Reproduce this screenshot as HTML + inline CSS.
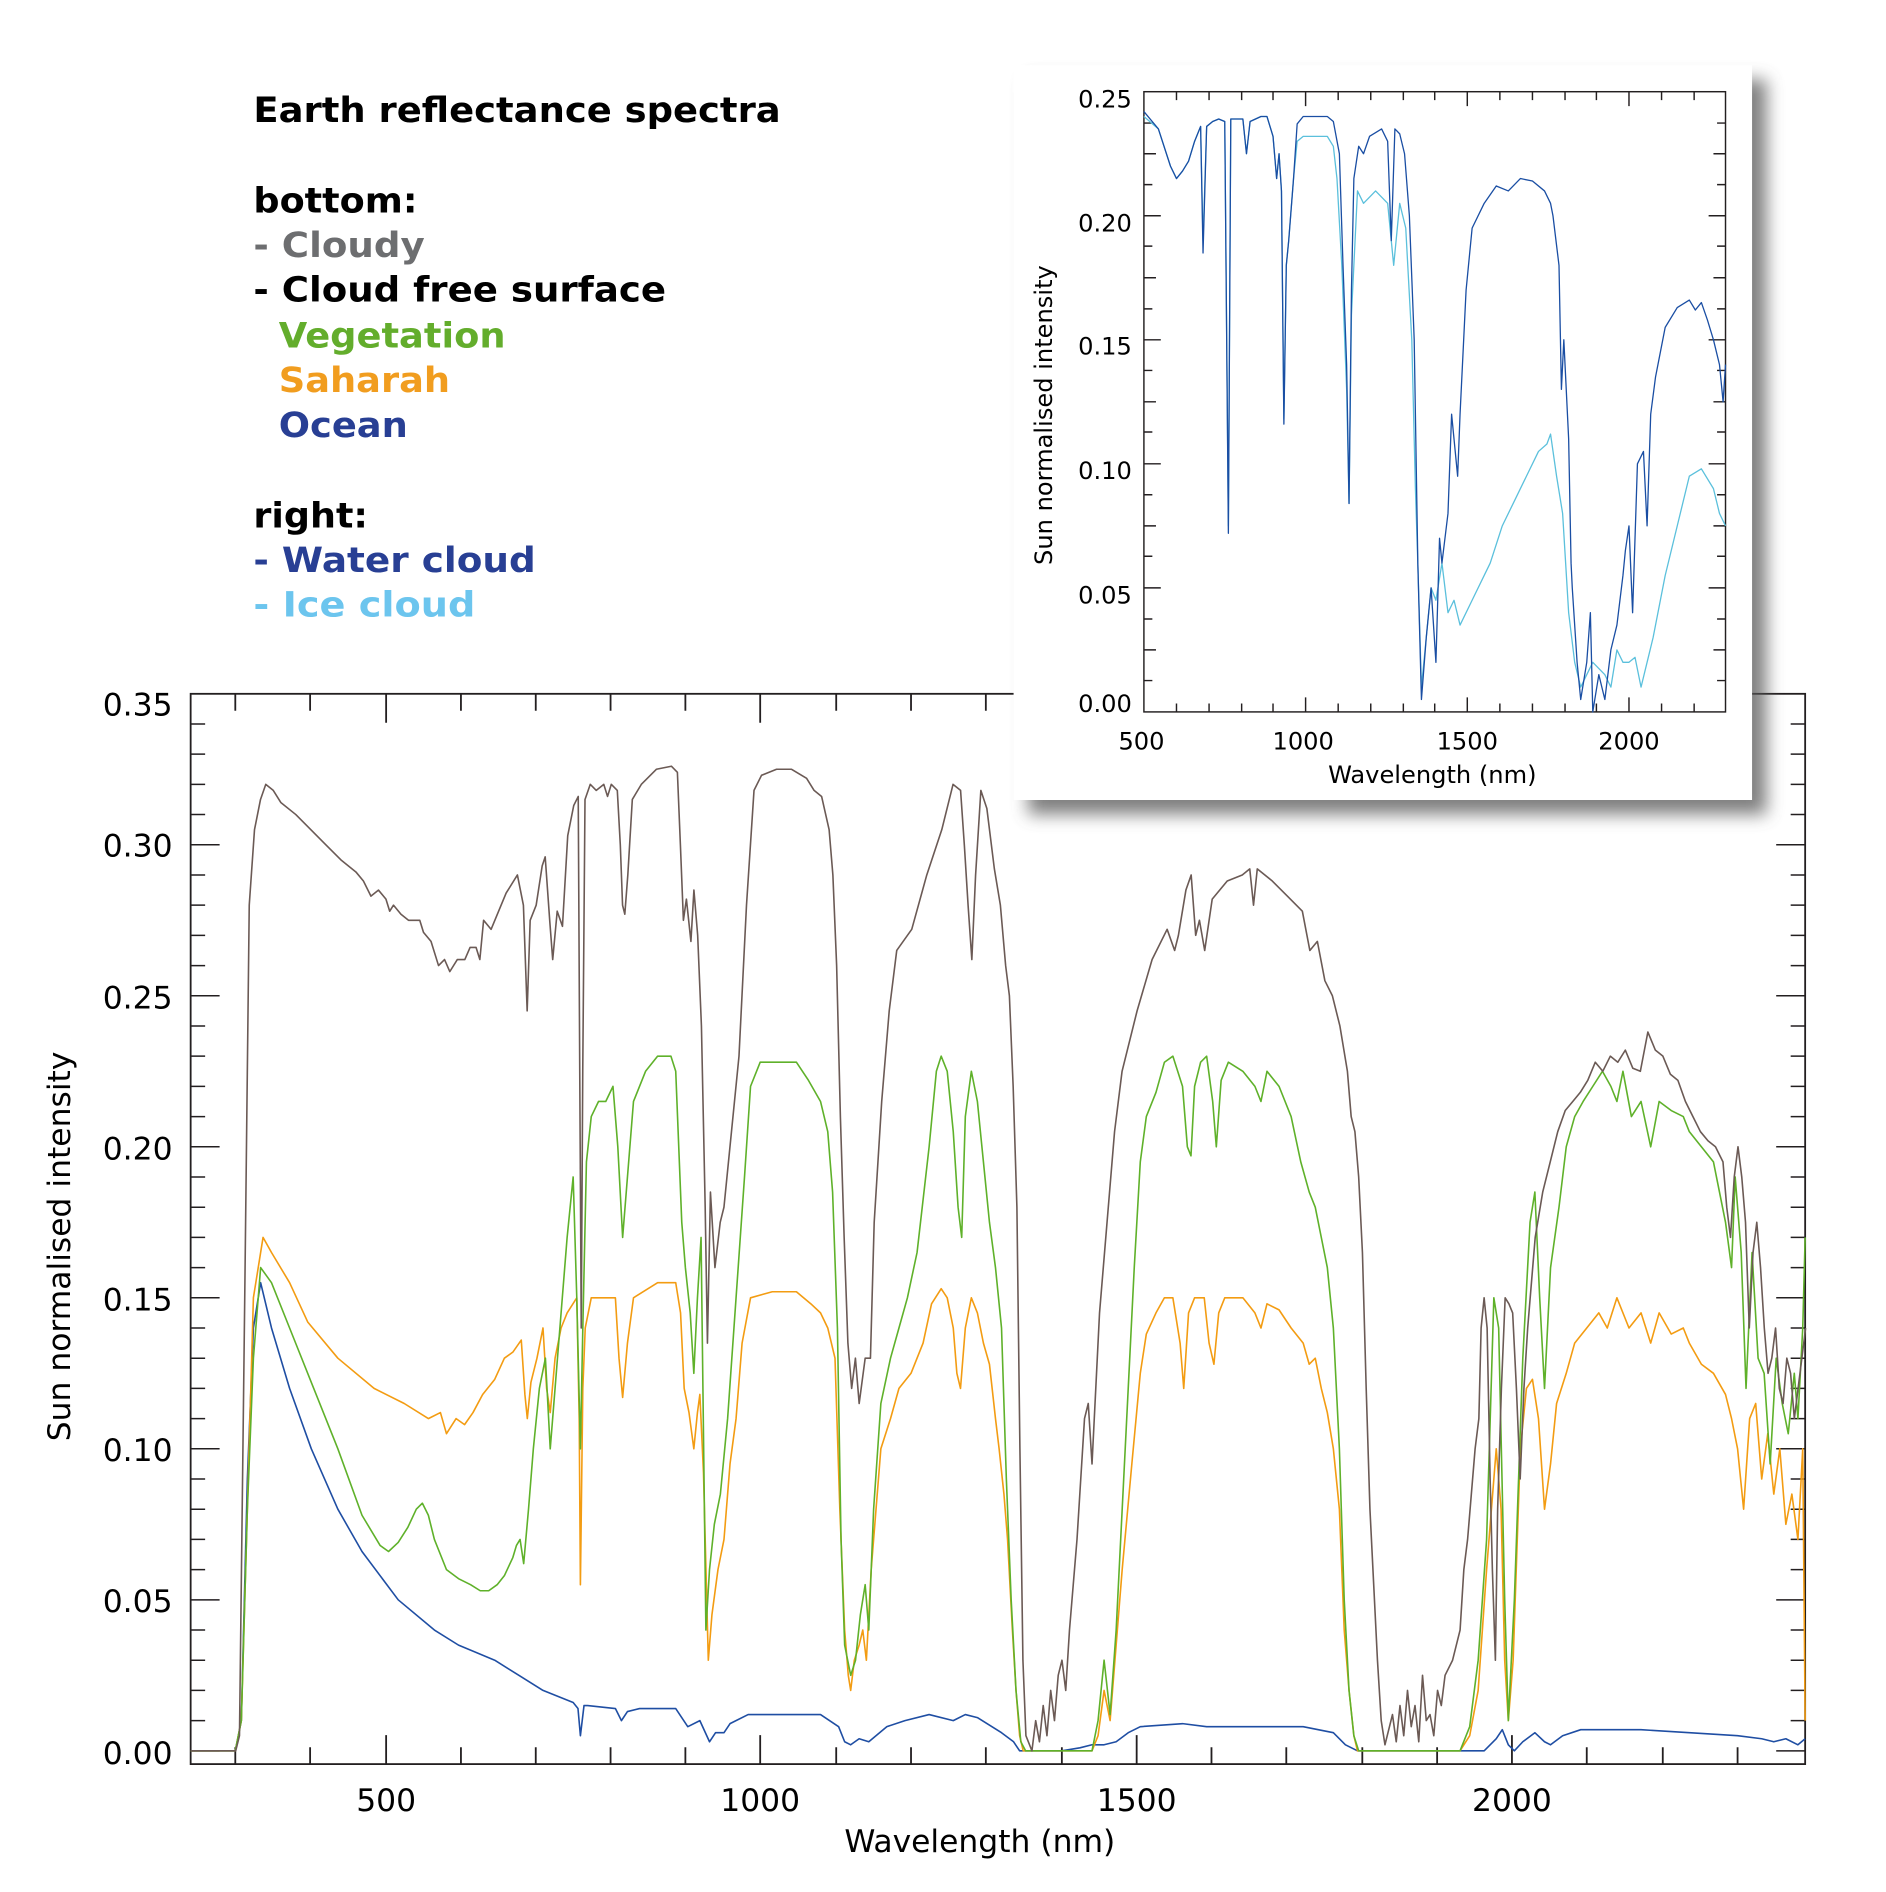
<!DOCTYPE html>
<html><head><meta charset="utf-8"><style>
html,body{margin:0;padding:0;background:#fff;}
svg{display:block;}
text{font-family:"DejaVu Sans","Liberation Sans",sans-serif;}
</style></head><body>
<svg width="1886" height="1892" viewBox="0 0 1563 1568" preserveAspectRatio="none" xmlns="http://www.w3.org/2000/svg">
<defs>
<filter id="sh" x="-10%" y="-10%" width="130%" height="130%"><feGaussianBlur stdDeviation="7"/></filter>
</defs>
<rect width="1563" height="1568" fill="#fff"/>

<g font-weight="bold" font-size="29">
<text x="210" y="101" textLength="437" lengthAdjust="spacingAndGlyphs">Earth reflectance spectra</text>
<text x="210" y="176" textLength="136" lengthAdjust="spacingAndGlyphs">bottom:</text>
<text x="210" y="213" fill="#6d6e70" textLength="142" lengthAdjust="spacingAndGlyphs">- Cloudy</text>
<text x="210" y="250" textLength="342" lengthAdjust="spacingAndGlyphs">- Cloud free surface</text>
<text x="231" y="288" fill="#63ad2c" textLength="188" lengthAdjust="spacingAndGlyphs">Vegetation</text>
<text x="231" y="325" fill="#f19d1f" textLength="142" lengthAdjust="spacingAndGlyphs">Saharah</text>
<text x="231" y="362" fill="#283f94" textLength="107" lengthAdjust="spacingAndGlyphs">Ocean</text>
<text x="210" y="437" textLength="95" lengthAdjust="spacingAndGlyphs">right:</text>
<text x="210" y="474" fill="#283f94" textLength="234" lengthAdjust="spacingAndGlyphs">- Water cloud</text>
<text x="210" y="511" fill="#6cc5ee" textLength="184" lengthAdjust="spacingAndGlyphs">- Ice cloud</text>
</g>

<rect x="158" y="575" width="1338" height="887" fill="none" stroke="#231f20" stroke-width="1.5"/>
<g transform="matrix(1,0,0,-2.503,0,1451)" stroke="#231f20">
<path vector-effect="non-scaling-stroke" stroke-width="1.5" d="M158 0h24M158 50h24M158 100h24M158 150h24M158 200h24M158 250h24M158 300h24
M1496 0h-24M1496 50h-24M1496 100h-24M1496 150h-24M1496 200h-24M1496 250h-24M1496 300h-24
M158 10h12M158 20h12M158 30h12M158 40h12M158 60h12M158 70h12M158 80h12M158 90h12M158 110h12M158 120h12M158 130h12M158 140h12M158 160h12M158 170h12M158 180h12M158 190h12M158 210h12M158 220h12M158 230h12M158 240h12M158 260h12M158 270h12M158 280h12M158 290h12M158 310h12M158 320h12M158 330h12M158 340h12
M1496 10h-12M1496 20h-12M1496 30h-12M1496 40h-12M1496 60h-12M1496 70h-12M1496 80h-12M1496 90h-12M1496 110h-12M1496 120h-12M1496 130h-12M1496 140h-12M1496 160h-12M1496 170h-12M1496 180h-12M1496 190h-12M1496 210h-12M1496 220h-12M1496 230h-12M1496 240h-12M1496 260h-12M1496 270h-12M1496 280h-12M1496 290h-12M1496 310h-12M1496 320h-12M1496 330h-12M1496 340h-12"/>
</g>
<g stroke="#231f20" stroke-width="1.5">
<path d="M195 1462v-14M257 1462v-14M382 1462v-14M444 1462v-14M506 1462v-14M568 1462v-14M693 1462v-14M755 1462v-14M817 1462v-14M880 1462v-14M1004 1462v-14M1066 1462v-14M1129 1462v-14M1191 1462v-14M1315 1462v-14M1378 1462v-14M1440 1462v-14
M320 1462v-24M630 1462v-24M942 1462v-24M1253 1462v-24
M195 575v14M257 575v14M382 575v14M444 575v14M506 575v14M568 575v14M693 575v14M755 575v14M817 575v14M1440 575v14M1378 575v14
M320 575v24M630 575v24"/>
</g>
<g font-size="26" fill="#000" text-anchor="end">
<text x="143" y="593">0.35</text>
<text x="143" y="710">0.30</text>
<text x="143" y="836">0.25</text>
<text x="143" y="961">0.20</text>
<text x="143" y="1086">0.15</text>
<text x="143" y="1211">0.10</text>
<text x="143" y="1336">0.05</text>
<text x="143" y="1462">0.00</text>
</g>
<g font-size="26" fill="#000" text-anchor="middle">
<text x="320" y="1501">500</text>
<text x="630" y="1501">1000</text>
<text x="942" y="1501">1500</text>
<text x="1253" y="1501">2000</text>
<text x="812" y="1535">Wavelength (nm)</text>
<text transform="translate(58,1033) rotate(-90)">Sun normalised intensity</text>
</g>

<g transform="matrix(1,0,0,-2.503,0,1451)" fill="none" stroke-linejoin="round">
<polyline vector-effect="non-scaling-stroke" stroke="#1f4ea3" stroke-width="1.6" points="158,0 195,0 200,10 205,90 210,140 216,155 225,140 240,120 258,100 280,80 300,66 330,50 360,40 380,35 410,30 430,25 450,20 475,16 479,14 481,5 484,15 487,15 510,14 515,10 520,13 530,14 560,14 570,8 580,10 588,3 593,6 600,6 605,9 620,12 680,12 695,8 700,3 705,2 712,4 720,3 735,8 750,10 770,12 790,10 800,12 810,11 830,6 840,3 845,0 880,0 895,1 905,2 915,2 925,3 935,6 945,8 980,9 1000,8 1080,8 1105,6 1115,2 1125,0 1230,0 1240,4 1245,7 1250,2 1255,0 1262,3 1272,6 1280,3 1285,2 1295,5 1310,7 1360,7 1400,6 1440,5 1460,4 1470,3 1480,4 1490,2 1496,4"/>
<polyline vector-effect="non-scaling-stroke" stroke="#f39c12" stroke-width="1.6" points="158,0 195,0 200,10 205,80 210,150 218,170 225,165 240,155 255,142 280,130 310,120 335,115 355,110 365,112 370,105 378,110 385,108 392,112 400,118 410,123 418,130 425,132 432,136 435,118 437,110 440,122 445,130 450,140 453,120 456,112 460,130 465,140 470,145 478,150 480,110 481,55 483,120 485,140 490,150 505,150 510,150 513,130 516,117 520,135 525,150 545,155 560,155 564,145 567,120 571,112 575,100 578,112 580,118 583,92 587,30 590,45 595,60 600,70 605,95 610,110 615,135 622,150 640,152 660,152 672,148 680,145 686,140 692,130 696,80 700,40 703,25 705,20 708,30 712,35 715,40 718,30 722,60 730,100 738,110 745,120 755,125 765,135 772,148 780,153 785,150 790,140 793,125 796,120 800,140 805,150 810,145 815,135 820,128 825,110 828,100 832,85 835,70 839,40 842,20 845,5 848,0 905,0 910,5 915,20 920,10 925,35 930,60 938,95 945,125 950,138 958,145 965,150 972,150 978,135 981,120 985,145 990,150 998,150 1002,135 1006,128 1010,145 1015,150 1030,150 1040,145 1045,140 1050,148 1060,146 1070,140 1080,135 1085,128 1090,130 1095,120 1100,112 1105,100 1110,80 1114,40 1118,20 1122,5 1125,0 1210,0 1218,5 1225,20 1232,60 1240,100 1244,80 1247,30 1250,10 1254,30 1260,100 1265,120 1270,123 1275,110 1280,80 1285,95 1290,115 1298,125 1305,135 1315,140 1325,145 1332,140 1340,150 1350,140 1360,145 1368,135 1375,145 1385,138 1395,140 1400,135 1410,128 1420,125 1430,118 1435,110 1440,100 1445,80 1450,110 1455,115 1460,90 1465,105 1470,85 1475,100 1480,75 1485,85 1490,70 1494,100 1496,10"/>
<polyline vector-effect="non-scaling-stroke" stroke="#5fb12a" stroke-width="1.6" points="158,0 195,0 200,10 205,80 210,130 216,160 225,155 240,140 260,120 280,100 300,78 315,68 322,66 330,69 338,74 345,80 350,82 355,78 360,70 370,60 380,57 390,55 398,53 405,53 412,55 418,58 425,64 428,68 431,70 434,62 438,80 442,100 447,120 452,130 456,100 460,120 465,145 470,170 475,190 478,150 481,100 483,140 486,195 490,210 496,215 502,215 508,220 512,200 516,170 520,190 525,215 535,225 545,230 556,230 560,225 565,175 568,160 572,145 575,125 578,150 581,170 585,40 588,60 592,75 597,85 603,110 610,150 617,190 622,220 630,228 660,228 670,222 680,215 686,205 690,185 694,140 697,70 700,35 705,25 709,30 713,45 717,55 720,40 724,80 730,115 738,130 745,140 752,150 760,165 770,200 776,225 780,230 785,225 790,205 794,180 797,170 800,210 805,225 810,215 815,195 820,175 825,160 830,140 834,90 838,50 842,20 846,3 850,0 905,0 910,10 915,30 920,12 925,40 930,80 935,120 940,160 945,195 950,210 958,218 965,228 972,230 980,220 984,200 987,197 990,220 995,228 1000,230 1005,215 1008,200 1012,222 1018,228 1030,225 1040,220 1045,215 1050,225 1060,220 1070,210 1078,195 1085,185 1090,180 1095,170 1100,160 1105,140 1110,100 1114,50 1118,20 1122,5 1126,0 1210,0 1218,8 1225,30 1232,70 1238,150 1242,140 1247,50 1250,10 1255,50 1262,130 1268,175 1272,185 1276,150 1280,120 1285,160 1292,180 1298,200 1305,210 1312,215 1320,220 1328,225 1335,220 1340,215 1345,225 1352,210 1360,215 1368,200 1375,215 1385,212 1395,210 1400,205 1410,200 1420,195 1425,185 1430,175 1435,160 1438,190 1443,165 1447,120 1452,165 1457,130 1462,125 1467,95 1472,130 1477,115 1482,105 1487,125 1490,110 1494,140 1496,170"/>
</g>
<g transform="matrix(0.6225,0,0,-2.503,8.6,1451)" fill="none">
<polyline vector-effect="non-scaling-stroke" stroke="#6b5a55" stroke-width="1.6" stroke-linejoin="round" points="240,0 300,0 305,5 312,150 318,280 325,305 333,315 340,320 350,318 360,314 380,310 400,305 420,300 440,295 460,291 470,288 480,283 490,285 500,282 505,278 510,280 520,277 530,275 545,275 550,271 560,268 570,260 578,262 585,258 595,262 605,262 612,266 620,266 625,262 630,275 640,272 650,278 660,284 675,290 683,280 688,245 692,275 700,280 708,293 712,296 718,275 722,262 728,278 735,273 742,303 750,313 756,316 758,225 760,140 762,225 765,315 772,320 780,318 790,320 795,316 800,320 808,318 812,300 815,280 818,277 822,290 828,315 840,320 860,325 880,326 888,324 892,300 896,275 900,282 906,268 910,285 915,270 920,240 925,180 928,135 932,185 938,160 945,175 950,180 960,205 970,230 980,280 990,318 1000,323 1020,325 1040,325 1060,322 1070,318 1080,316 1090,305 1095,290 1100,260 1105,210 1110,170 1115,135 1120,120 1125,130 1130,115 1138,130 1145,130 1150,175 1160,215 1170,245 1180,265 1200,272 1220,290 1240,305 1255,320 1265,318 1270,300 1275,280 1280,262 1285,290 1292,318 1300,312 1310,292 1318,280 1325,260 1330,250 1335,220 1340,180 1344,100 1348,30 1352,5 1360,0 1365,10 1370,3 1375,15 1380,5 1385,20 1390,10 1395,25 1400,30 1405,20 1410,40 1415,55 1420,70 1425,90 1430,110 1435,115 1440,95 1445,120 1450,145 1460,175 1470,205 1480,225 1500,245 1520,262 1540,272 1550,265 1555,270 1565,285 1572,290 1578,270 1583,275 1590,265 1600,282 1620,288 1640,290 1650,292 1655,280 1660,292 1680,288 1700,283 1720,278 1730,265 1740,268 1750,255 1760,250 1770,240 1780,225 1785,210 1790,205 1795,190 1800,165 1805,120 1810,80 1815,55 1820,30 1825,10 1830,2 1840,12 1845,3 1850,15 1855,5 1860,20 1865,8 1870,15 1875,3 1880,25 1885,10 1890,12 1895,5 1900,20 1905,15 1910,25 1920,30 1930,40 1935,60 1940,70 1945,85 1950,100 1955,110 1958,140 1962,150 1966,140 1970,90 1973,60 1977,30 1980,80 1985,120 1990,150 1995,148 2000,145 2005,120 2010,90 2015,120 2020,140 2030,170 2040,185 2050,195 2060,205 2070,212 2080,215 2090,218 2100,222 2110,228 2120,225 2130,230 2140,228 2150,232 2160,226 2170,225 2180,238 2190,232 2200,230 2210,224 2220,222 2230,215 2240,210 2250,205 2260,202 2270,200 2280,195 2285,180 2290,170 2295,190 2300,200 2305,190 2310,175 2315,140 2320,165 2325,175 2330,160 2335,140 2340,125 2345,130 2350,140 2355,120 2360,115 2365,130 2370,125 2375,110 2380,120 2385,130 2390,140"/>
</g>

<rect x="852" y="66" width="612" height="609" fill="#555" opacity="0.75" filter="url(#sh)"/>
<rect x="840" y="54" width="612" height="609" fill="#fff"/>
<rect x="948" y="76" width="482" height="514" fill="none" stroke="#231f20" stroke-width="1.2"/>
<g stroke="#231f20" stroke-width="1.2">
<path d="M948 127.4h10M948 178.8h14M948 230.2h10M948 281.6h14M948 333h10M948 384.4h14M948 435.8h10M948 487.2h14M948 538.6h10
M948 102h7M948 153h7M948 204h7M948 256h7M948 307h7M948 358h7M948 410h7M948 461h7M948 513h7M948 564h7
M1430 127.4h-10M1430 178.8h-14M1430 230.2h-10M1430 281.6h-14M1430 333h-10M1430 384.4h-14M1430 435.8h-10M1430 487.2h-14M1430 538.6h-10
M1430 102h-7M1430 153h-7M1430 204h-7M1430 256h-7M1430 307h-7M1430 358h-7M1430 410h-7M1430 461h-7M1430 513h-7M1430 564h-7"/>
<path d="M975 590v-7M1002 590v-7M1029 590v-7M1055 590v-7M1109 590v-7M1136 590v-7M1163 590v-7M1189 590v-7M1243 590v-7M1270 590v-7M1297 590v-7M1323 590v-7M1377 590v-7M1404 590v-7
M1082 590v-12M1216 590v-12M1350 590v-12
M975 76v7M1002 76v7M1029 76v7M1055 76v7M1109 76v7M1136 76v7M1163 76v7M1189 76v7M1243 76v7M1270 76v7M1297 76v7M1323 76v7M1377 76v7M1404 76v7
M1082 76v12M1216 76v12M1350 76v12"/>
</g>
<g font-size="20" fill="#000" text-anchor="end">
<text x="938" y="89">0.25</text>
<text x="938" y="192">0.20</text>
<text x="938" y="294">0.15</text>
<text x="938" y="397">0.10</text>
<text x="938" y="500">0.05</text>
<text x="938" y="590">0.00</text>
</g>
<g font-size="20" fill="#000" text-anchor="middle">
<text x="946" y="621">500</text>
<text x="1080" y="621">1000</text>
<text x="1216" y="621">1500</text>
<text x="1350" y="621">2000</text>
<text x="1187" y="649">Wavelength (nm)</text>
<text transform="translate(872,344) rotate(-90)">Sun normalised intensity</text>
</g>
<g transform="matrix(1,0,0,-2.056,0,590)" fill="none" stroke-linejoin="round">
<polyline vector-effect="non-scaling-stroke" stroke="#5bc0dc" stroke-width="1.3" points="948,240 960,235 970,220 975,215 980,218 985,222 990,230 995,236 997,190 1000,236 1005,238 1010,239 1015,238 1018,75 1020,239 1030,239 1033,225 1036,238 1045,240 1050,240 1055,232 1058,215 1060,225 1062,210 1064,118 1066,180 1068,190 1072,215 1075,230 1080,232 1100,232 1105,228 1108,215 1112,180 1116,130 1118,84 1120,160 1125,210 1130,205 1140,210 1150,205 1155,180 1160,205 1165,195 1170,150 1173,90 1175,60 1178,10 1182,30 1186,50 1190,45 1195,60 1200,40 1205,45 1210,35 1220,45 1230,55 1235,60 1245,75 1255,85 1265,95 1275,105 1282,108 1285,112 1290,95 1295,80 1300,40 1305,20 1310,10 1315,15 1320,20 1330,15 1335,10 1340,25 1345,20 1350,20 1355,22 1360,10 1365,20 1370,30 1380,55 1390,75 1400,95 1410,98 1420,90 1425,80 1430,75"/>
<polyline vector-effect="non-scaling-stroke" stroke="#1a4ea3" stroke-width="1.3" points="948,242 960,235 970,220 975,215 980,218 985,222 990,230 995,236 997,185 1000,236 1005,238 1010,239 1015,238 1018,72 1020,239 1030,239 1033,225 1036,238 1045,240 1050,240 1055,232 1058,215 1060,225 1062,210 1064,116 1066,180 1068,190 1072,215 1075,237 1080,240 1100,240 1105,238 1110,225 1113,180 1116,140 1118,84 1120,170 1122,215 1126,228 1130,225 1135,232 1145,235 1150,230 1153,190 1156,235 1160,233 1164,225 1168,200 1172,150 1175,60 1178,5 1182,30 1186,50 1190,20 1193,70 1195,60 1200,80 1203,120 1205,110 1208,95 1210,120 1213,150 1215,170 1220,195 1230,205 1240,212 1250,210 1260,215 1270,214 1280,210 1285,205 1287,200 1292,180 1294,130 1296,150 1300,110 1302,60 1303,50 1307,20 1310,5 1315,20 1318,40 1320,0 1325,15 1330,5 1335,25 1340,35 1345,55 1347,65 1350,75 1353,40 1357,100 1362,105 1365,75 1368,120 1372,135 1380,155 1390,163 1400,166 1405,162 1410,165 1415,158 1420,150 1425,140 1428,125 1430,140"/>
</g>
</svg>
</body></html>
